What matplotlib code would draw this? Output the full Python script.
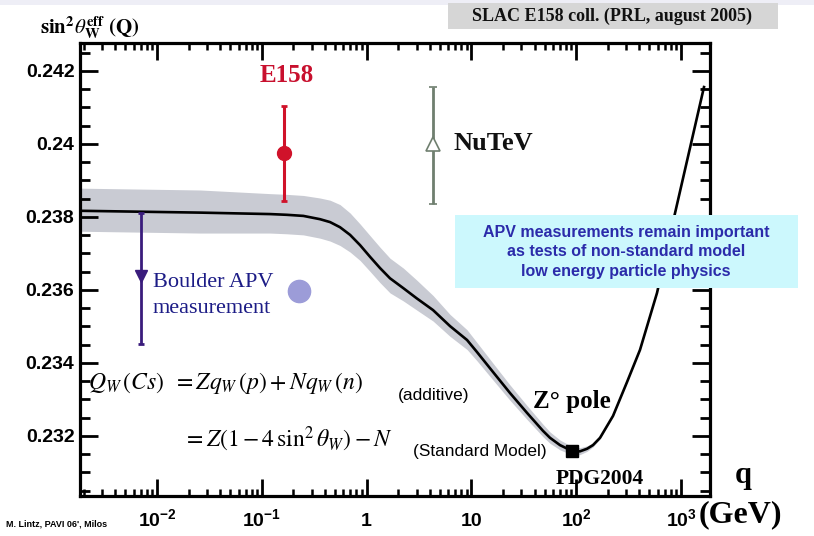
import matplotlib
matplotlib.use('Agg')
import matplotlib.pyplot as plt
from matplotlib.patches import Rectangle
import matplotlib.ticker as mticker
import numpy as np

plt.rcParams['mathtext.fontset'] = 'custom'
plt.rcParams['mathtext.rm'] = 'Liberation Sans:bold'
plt.rcParams['mathtext.bf'] = 'Liberation Sans:bold'
plt.rcParams['mathtext.it'] = 'Liberation Sans:italic:bold'

# ---------------- data ----------------
q_curve = [0.00184, 0.0257, 0.1197, 0.1729, 0.2489, 0.359, 0.448, 0.557, 0.695, 0.865,
           1.077, 1.343, 1.672, 2.24, 3.01, 4.30, 6.25, 9.08, 11.3, 16.1,
           23.3, 34.0, 48.2, 56.2, 70.0, 91.2, 108.6, 126.8, 144.5, 168.7,
           224.4, 305.5, 406, 590, 877, 1656]
s2w_curve = [0.23817, 0.23812, 0.23808, 0.23806, 0.23803, 0.23794, 0.23786, 0.23772, 0.23751, 0.23723,
             0.23691, 0.23660, 0.23632, 0.23605, 0.23577, 0.23545, 0.23501, 0.23463, 0.23430, 0.23375,
             0.23318, 0.23263, 0.23214, 0.23195, 0.23175, 0.23159, 0.23158, 0.23165, 0.23175, 0.23195,
             0.23255, 0.23348, 0.23436, 0.23592, 0.23811, 0.24156]
band_up = [0.00062, 0.00062, 0.00056, 0.00056, 0.00056, 0.00058, 0.00060, 0.00062, 0.00060, 0.00058,
           0.00058, 0.00057, 0.00055, 0.00055, 0.00050, 0.00040, 0.00032, 0.00028, 0.00026, 0.00024,
           0.00022, 0.00020, 0.00018, 0.00016, 0.00014, 0.00012, 0.00010, 0.00008, 0.00006, 0.00004,
           0.00001, 0.0, 0.0, 0.0, 0.0, 0.0]
band_lo = [0.00056, 0.00056, 0.00052, 0.00052, 0.00052, 0.00052, 0.00052, 0.00050, 0.00047, 0.00042,
           0.00040, 0.00040, 0.00040, 0.00035, 0.00032, 0.00030, 0.00028, 0.00026, 0.00024, 0.00022,
           0.00020, 0.00018, 0.00016, 0.00015, 0.00013, 0.00011, 0.00009, 0.00007, 0.00005, 0.00003,
           0.00001, 0.0, 0.0, 0.0, 0.0, 0.0]

e158_q, e158_val, e158_lo, e158_hi = 0.163, 0.23975, 0.00131, 0.00129
nutev_q, nutev_val, nutev_lo, nutev_hi = 4.3, 0.23999, 0.00163, 0.00158
boulder_q, boulder_val, boulder_lo, boulder_hi = 0.00703, 0.23638, 0.00187, 0.00174
apv_q, apv_val = 0.226, 0.23598
zpole_q, zpole_val = 91.19, 0.23159

x_ticks = [1e-2, 1e-1, 1, 10, 100, 1000]
x_labels = [r'$10^{-2}$', r'$10^{-1}$', '1', '10', r'$10^{2}$', r'$10^{3}$']
y_ticks = [0.232, 0.234, 0.236, 0.238, 0.240, 0.242]
y_labels = ['0.232', '0.234', '0.236', '0.238', '0.24', '0.242']

# ---------------- figure ----------------
W, H = 814, 536
fig = plt.figure(figsize=(W / 100, H / 100), dpi=100)
fig.patch.set_facecolor('white')


def fx(px):
    return px / W


def fy(py):
    return 1 - py / H


fig.patches.append(Rectangle((0, fy(5)), 1, 5 / H, transform=fig.transFigure,
                             facecolor='#eeeef6', edgecolor='none', zorder=0))

ax = fig.add_axes([fx(80), fy(496), (710 - 80) / W, (496 - 43) / H])
ax.set_xscale('log')
ax.set_xlim(0.00184, 1890)
ax.set_ylim(0.230356, 0.242767)

q = np.array(q_curve)
s = np.array(s2w_curve)
ax.fill_between(q, s + np.array(band_up), s - np.array(band_lo),
                color='#c9cbd3', lw=0, zorder=1)
ax.plot(q, s, color='black', lw=1.9, zorder=3, solid_joinstyle='round')

ax.plot([zpole_q], [zpole_val], marker='s', color='black', ms=9, zorder=5, ls='none')

ax.errorbar([e158_q], [e158_val], yerr=[[e158_lo], [e158_hi]], fmt='o',
            color='#d0122a', ms=10, elinewidth=2.2, capsize=2, capthick=2, zorder=6)
ax.errorbar([nutev_q], [nutev_val], yerr=[[nutev_lo], [nutev_hi]], fmt='^',
            color='#6f7f6f', mfc='white', mec='#6f7f6f', ms=10, mew=1.2,
            elinewidth=2, capsize=3, capthick=2, zorder=6)
ax.errorbar([boulder_q], [boulder_val], yerr=[[boulder_lo], [boulder_hi]], fmt='v',
            color='#3a1c7c', ms=9, elinewidth=2, capsize=2, capthick=2, zorder=6)
ax.plot([apv_q], [apv_val], marker='o', color='#9c9cd8', ms=16, ls='none', zorder=6)

# ticks
ax.xaxis.set_major_locator(mticker.FixedLocator(x_ticks))
ax.xaxis.set_major_formatter(mticker.FixedFormatter(x_labels))
ax.xaxis.set_minor_locator(mticker.LogLocator(base=10, subs=np.arange(2, 10), numticks=20))
ax.xaxis.set_minor_formatter(mticker.NullFormatter())
ax.yaxis.set_major_locator(mticker.FixedLocator(y_ticks))
ax.yaxis.set_major_formatter(mticker.FixedFormatter(y_labels))
ax.yaxis.set_minor_locator(mticker.MultipleLocator(0.0005))

ax.tick_params(which='both', direction='in', top=True, right=True, color='black')
ax.tick_params(axis='x', which='major', length=12, width=2, pad=21.5, labelsize=14)
ax.tick_params(axis='x', which='minor', length=5, width=1.8)
ax.tick_params(axis='y', which='major', length=13, width=2, pad=4, labelsize=14)
ax.tick_params(axis='y', which='minor', length=7.5, width=2)
for lab in ax.get_xticklabels():
    lab.set_fontfamily('Liberation Sans')
    lab.set_fontweight('bold')
    lab.set_verticalalignment('baseline')
for lab in ax.get_yticklabels():
    lab.set_fontfamily('Liberation Sans')
    lab.set_fontweight('bold')
for sp in ax.spines.values():
    sp.set_linewidth(2.3)

# ---------------- texts ----------------
serif = 'Liberation Serif'
sans = 'Liberation Sans'

fig.text(fx(40), fy(33),
         r'$\mathbf{sin}^{\mathbf{2}}\theta_{\mathbf{W}}^{\mathbf{eff}}\ \mathbf{(Q)}$',
         math_fontfamily='stix', fontsize=15, va='baseline', ha='left')

fig.patches.append(Rectangle((fx(448), fy(29)), (778 - 448) / W, 26 / H,
                             transform=fig.transFigure, facecolor='#d6d6d6',
                             edgecolor='none', zorder=1))
fig.text(fx(612), fy(16), 'SLAC E158 coll. (PRL, august 2005)', family=serif,
         fontweight='bold', fontsize=13, ha='center', va='center', color='#111111')

fig.text(fx(287), fy(82), 'E158', family=serif, fontweight='bold', fontsize=18,
         color='#c8102e', ha='center', va='baseline')
fig.text(fx(453), fy(150), 'NuTeV', family=serif, fontweight='bold', fontsize=19,
         color='#111111', ha='left', va='baseline')
fig.text(fx(153), fy(287), 'Boulder APV', family=serif, fontsize=16,
         color='#1c1c86', ha='left', va='baseline')
fig.text(fx(153), fy(313), 'measurement', family=serif, fontsize=16,
         color='#1c1c86', ha='left', va='baseline')

# highlighted box
fig.patches.append(Rectangle((fx(455), fy(288)), (798 - 455) / W, (288 - 215) / H,
                             transform=fig.transFigure, facecolor='#ccf8fd',
                             edgecolor='none', zorder=4))
fig.text(fx(626), fy(252), 'APV measurements remain important\nas tests of non-standard model\nlow energy particle physics',
         family=sans, fontweight='bold', fontsize=11.5, color='#2b2baa',
         ha='center', va='center', linespacing=1.38, zorder=5)

fig.text(fx(88), fy(389), r'$Q_W\,(Cs)\;\;=Zq_W\,(p)+Nq_W\,(n)$', math_fontfamily='stix',
         fontsize=17, ha='left', va='baseline')
fig.text(fx(398), fy(400), '(additive)', family=sans, fontsize=12.5, ha='left', va='baseline')
fig.text(fx(183), fy(447), r'$=Z(1-4\,\sin^2\theta_W)-N$', math_fontfamily='stix',
         fontsize=17, ha='left', va='baseline')
fig.text(fx(413), fy(456), '(Standard Model)', family=sans, fontsize=12.4, ha='left', va='baseline')

fig.text(fx(533), fy(408), 'Z° pole', family=serif, fontweight='bold', fontsize=18,
         ha='left', va='baseline')
fig.text(fx(600), fy(484), 'PDG2004', family=serif, fontweight='bold', fontsize=15.5,
         ha='center', va='baseline')
fig.text(fx(743), fy(483), 'q', family=serif, fontweight='bold', fontsize=22,
         ha='center', va='baseline')
fig.text(fx(740), fy(522), '(GeV)', family=serif, fontweight='bold', fontsize=23,
         ha='center', va='baseline')
fig.text(fx(6), fy(526), "M. Lintz, PAVI 06', Milos", family=sans, fontweight='bold',
         fontsize=6.5, ha='left', va='baseline')

fig.savefig('out.png', dpi=100, facecolor='white')
